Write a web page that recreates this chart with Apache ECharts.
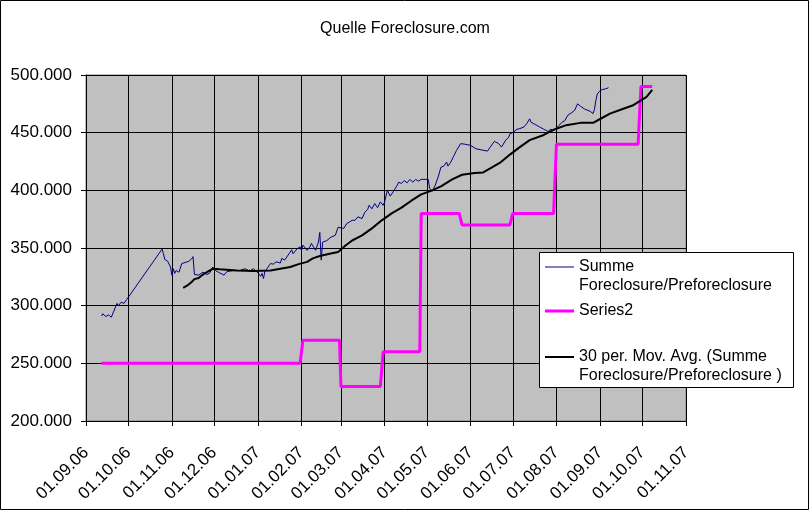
<!DOCTYPE html>
<html>
<head>
<meta charset="utf-8">
<script src="https://cdn.jsdelivr.net/npm/echarts@6/dist/echarts.min.js"></script>
<style>
html,body{margin:0;padding:0;background:#fff;}
#chart{width:810px;height:511px;}
</style>
</head>
<body>
<div id="chart"></div>
<script>
// ---- data ----
const titleText = 'Quelle Foreclosure.com';
const seriesNames = ['Summe Foreclosure/Preforeclosure', 'Series2', '30 per. Mov. Avg. (Summe Foreclosure/Preforeclosure )'];

const blueDates = ['2006-09-12','2006-09-13','2006-09-15','2006-09-17','2006-09-19','2006-09-23','2006-09-24','2006-09-26','2006-09-28','2006-09-30',
'2006-10-01','2006-10-25','2006-10-26','2006-10-27','2006-10-29','2006-10-31','2006-11-01','2006-11-02','2006-11-03','2006-11-04',
'2006-11-06','2006-11-08','2006-11-09','2006-11-13','2006-11-15','2006-11-16','2006-11-17','2006-11-20','2006-11-23','2006-11-26',
'2006-11-28','2006-11-30','2006-12-02','2006-12-04','2006-12-08','2006-12-10','2006-12-15','2006-12-19','2006-12-23','2006-12-26',
'2006-12-29','2007-01-01','2007-01-03','2007-01-04','2007-01-05','2007-01-06','2007-01-10','2007-01-12','2007-01-14','2007-01-17',
'2007-01-18','2007-01-20','2007-01-24','2007-01-25','2007-01-26','2007-01-29','2007-01-31','2007-02-01','2007-02-02','2007-02-05',
'2007-02-07','2007-02-08','2007-02-11','2007-02-13','2007-02-14','2007-02-15','2007-02-16','2007-02-19','2007-02-22','2007-02-25',
'2007-02-27','2007-03-03','2007-03-05','2007-03-07','2007-03-09','2007-03-11','2007-03-13','2007-03-16','2007-03-18','2007-03-20',
'2007-03-21','2007-03-23','2007-03-25','2007-03-27','2007-03-29','2007-03-31','2007-04-01','2007-04-03','2007-04-05','2007-04-07',
'2007-04-10','2007-04-11','2007-04-13','2007-04-15','2007-04-17','2007-04-19','2007-04-21','2007-04-23','2007-04-25','2007-04-27',
'2007-05-02','2007-05-03','2007-05-05','2007-05-07','2007-05-09','2007-05-11','2007-05-13','2007-05-15','2007-05-16','2007-05-18',
'2007-05-20','2007-05-22','2007-05-25','2007-05-28','2007-06-01','2007-06-05','2007-06-13','2007-06-15','2007-06-18','2007-06-21',
'2007-06-23','2007-06-26','2007-06-28','2007-06-29','2007-07-01','2007-07-04','2007-07-06','2007-07-09','2007-07-11','2007-07-13',
'2007-07-14','2007-07-17','2007-07-20','2007-07-23','2007-07-26','2007-07-28','2007-07-30','2007-08-01','2007-08-02','2007-08-05',
'2007-08-07','2007-08-09','2007-08-12','2007-08-14','2007-08-16','2007-08-18','2007-08-21','2007-08-25','2007-08-27','2007-08-28',
'2007-08-29','2007-08-30','2007-09-01','2007-09-03','2007-09-05','2007-09-07'];
const blueValues = [291000,293000,290500,292000,290000,302000,300000,303000,302000,305500,
304000,349000,345000,340000,338500,333500,326500,332000,328000,330500,
329000,336500,338000,338500,340500,342500,327000,326500,329000,327000,
328500,333500,330500,329000,326500,329500,330500,330500,332000,330000,
332000,328500,325500,328000,323500,329500,336500,336000,338000,337000,
341000,339500,346500,348500,345000,349500,351000,348000,352500,348000,
351000,354000,348000,355000,363500,339500,355000,356500,359500,361000,
368000,367000,371000,372500,374000,374000,377000,375500,381000,383500,
387000,384000,388500,385000,390000,387000,390000,400000,395000,398500,
404500,407000,406000,408500,406500,409500,407000,409500,408000,409500,
409500,401500,399500,404500,411500,420000,421000,424500,421000,424500,
429500,434500,440500,440000,439000,436000,434000,437500,442500,440500,
437500,443500,446000,449000,450000,453000,453500,455000,458000,462000,
459000,457000,455000,453000,451000,453000,452000,454000,455500,459000,
460500,465000,467500,469500,475000,473000,470500,468500,466500,470000,
478000,483500,486500,487500,488000,489000];

const stepDates = ['2006-09-12','2007-01-31','2007-02-02','2007-02-28','2007-03-01','2007-03-29','2007-03-31','2007-04-26','2007-04-27',
'2007-05-24','2007-05-26','2007-06-29','2007-07-01','2007-07-30','2007-08-01','2007-09-28','2007-09-30','2007-10-08'];
const stepValues = [250000,250000,270000,270000,230000,230000,260000,260000,380000,
380000,370000,370000,380000,380000,440000,440000,490000,490000];

const maDates = ['2006-11-09','2006-11-12','2006-11-15','2006-11-17','2006-11-20','2006-11-23','2006-11-27','2006-11-30','2006-12-05','2006-12-17',
'2006-12-29','2007-01-10','2007-01-17','2007-01-24','2007-01-30','2007-02-05','2007-02-09','2007-02-14','2007-02-21','2007-02-27',
'2007-03-04','2007-03-09','2007-03-16','2007-03-23','2007-03-30','2007-04-06','2007-04-13','2007-04-20','2007-04-27','2007-05-04',
'2007-05-11','2007-05-19','2007-05-26','2007-06-04','2007-06-10','2007-06-15','2007-06-22','2007-06-29','2007-07-06','2007-07-13',
'2007-07-23','2007-07-30','2007-08-08','2007-08-18','2007-08-27','2007-09-02','2007-09-08','2007-09-17','2007-09-24','2007-09-30',
'2007-10-04','2007-10-06','2007-10-08'];
const maValues = [315500,317500,320500,323000,324000,327000,330000,332000,331500,330500,
330000,330500,332000,333500,336000,338000,341000,343000,345000,346500,
352000,356500,361000,367000,374000,380000,385000,391000,396500,399500,
403500,409500,413500,415000,415500,419000,424000,431000,437500,443500,
448000,452500,456500,458500,458500,462500,466500,470500,473500,478000,
481000,484000,487000];

const yMin = 200000, yMax = 500000, yStep = 50000;
const xStart = '2006-09-01', xEnd = '2007-11-01';

// ---- build ----
const zip = (d, v) => d.map((t, i) => [t, v[i]]);
const pad2 = n => (n < 10 ? '0' : '') + n;
const fmtDate = val => { const d = new Date(val); return pad2(d.getDate()) + '.' + pad2(d.getMonth() + 1) + '.' + pad2(d.getFullYear() % 100); };
const fmtNum = v => Math.floor(v / 1000) + '.' + String(v % 1000).padStart(3, '0');
const FONT = '"Liberation Sans", Arial, sans-serif';
const DAY = 86400000;

const chart = echarts.init(document.getElementById('chart'), null, {renderer: 'canvas'});

const legendBase = {
  orient: 'vertical', left: 545, padding: 0, itemGap: 0,
  itemWidth: 29, icon: 'rect', z: 20, selectedMode: false,
  textStyle: {fontFamily: FONT, fontSize: 16, color: '#000', lineHeight: 19}
};

chart.setOption({
  backgroundColor: '#fff',
  animation: false,
  title: {
    text: titleText, left: 400, top: 16, textAlign: 'center',
    textStyle: {fontFamily: FONT, fontSize: 16, fontWeight: 'normal', color: '#000'}
  },
  grid: {left: 86, top: 75, width: 600, height: 346, show: true, backgroundColor: '#C0C0C0', borderColor: '#808080', borderWidth: 1},
  xAxis: {
    type: 'time', min: xStart, max: xEnd,
    minInterval: 28 * DAY, maxInterval: 31 * DAY,
    axisLine: {lineStyle: {color: '#000', width: 1}},
    axisTick: {show: true, length: 5, lineStyle: {color: '#000'}},
    splitLine: {show: true, lineStyle: {color: '#000', width: 1}},
    axisLabel: {rotate: 45, margin: 29, color: '#000', fontFamily: FONT, fontSize: 17, formatter: fmtDate, showMinLabel: true, showMaxLabel: true, hideOverlap: false}
  },
  yAxis: {
    type: 'value', min: yMin, max: yMax, interval: yStep,
    axisLine: {show: true, lineStyle: {color: '#000', width: 1}},
    axisTick: {show: true, length: 5, lineStyle: {color: '#000'}},
    splitLine: {show: true, lineStyle: {color: '#000', width: 1}},
    axisLabel: {margin: 14, color: '#000', fontFamily: FONT, fontSize: 17, formatter: fmtNum}
  },
  legend: [
    Object.assign({}, legendBase, {top: 238.5, data: [seriesNames[0]], itemHeight: 1,
      formatter: () => '\nSumme\nForeclosure/Preforeclosure'}),
    Object.assign({}, legendBase, {top: 301.5, data: [seriesNames[1]], itemHeight: 3}),
    Object.assign({}, legendBase, {top: 328.5, data: [seriesNames[2]], itemHeight: 2,
      formatter: () => '\n30 per. Mov. Avg. (Summe\nForeclosure/Preforeclosure )'})
  ],
  graphic: [
    {type: 'rect', z: 10, shape: {x: 539.5, y: 252.5, width: 254, height: 135}, style: {fill: '#fff', stroke: '#000', lineWidth: 1}},
    {type: 'rect', z: 100, silent: true, shape: {x: 0.5, y: 0.5, width: 808, height: 509}, style: {fill: 'none', stroke: '#000', lineWidth: 1}}
  ],
  series: [
    {name: seriesNames[0], type: 'line', data: zip(blueDates, blueValues), showSymbol: false, symbol: 'none',
      lineStyle: {color: '#000080', width: 1}, itemStyle: {color: '#000080'}, z: 3},
    {name: seriesNames[1], type: 'line', data: zip(stepDates, stepValues), showSymbol: false, symbol: 'none',
      lineStyle: {color: '#FF00FF', width: 3}, itemStyle: {color: '#FF00FF'}, z: 4},
    {name: seriesNames[2], type: 'line', data: zip(maDates, maValues), showSymbol: false, symbol: 'none',
      lineStyle: {color: '#000000', width: 2}, itemStyle: {color: '#000000'}, z: 5}
  ]
});
</script>
</body>
</html>
